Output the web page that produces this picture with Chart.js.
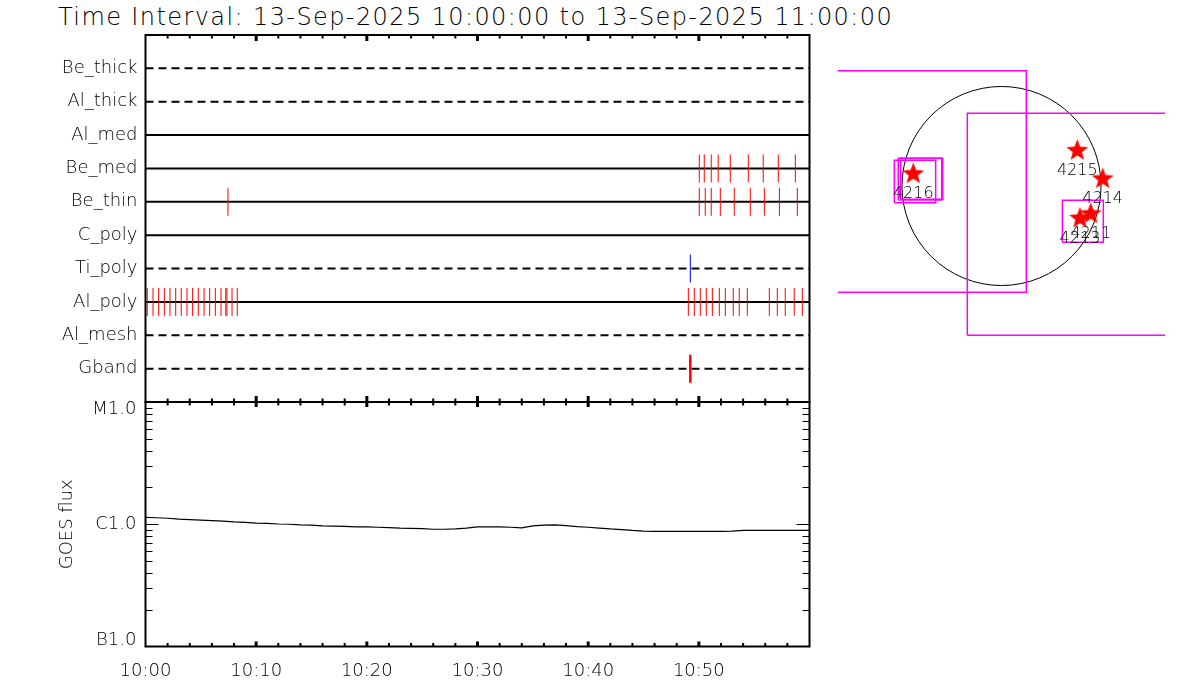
<!DOCTYPE html>
<html><head><meta charset="utf-8">
<script src="https://cdn.jsdelivr.net/npm/chart.js@4.4.1/dist/chart.umd.min.js"></script>
<style>
html,body{margin:0;padding:0;background:#fff;width:1200px;height:700px;overflow:hidden;}
canvas{position:absolute;left:0;top:0;}
#title{position:absolute;left:58px;top:3px;font-family:"DejaVu Sans";font-weight:200;font-size:24px;line-height:28px;letter-spacing:1.4px;color:#000;white-space:nowrap;}
</style></head><body>
<div id="title"></div>
<canvas id="c1" width="1200" height="700"></canvas>
<canvas id="c2" width="1200" height="700"></canvas>
<canvas id="c3" width="1200" height="700"></canvas>
<script>
// ---------------- DATA ----------------
const titleText = 'Time Interval: 13-Sep-2025 10:00:00 to 13-Sep-2025 11:00:00';
const channelNames = ['Be_thick','Al_thick','Al_med','Be_med','Be_thin','C_poly','Ti_poly','Al_poly','Al_mesh','Gband'];
const channelDashed = [true, true, false, false, false, false, true, false, true, true];
// event times, minutes after 10:00
const beMedTimes = [50.04, 50.49, 51.12, 51.75, 52.84, 54.47, 55.82, 57.18, 58.72];
const beThinTimes = [7.45, 50.04, 50.58, 51.12, 51.94, 53.20, 54.65, 55.92, 57.28, 58.90];
const tiPolyTimes = [49.23];
const alPolyTimes = [0.16, 0.68, 1.19, 1.70, 2.21, 2.73, 3.23, 3.75, 4.26, 4.77, 5.29, 5.80, 6.31, 6.82, 7.25, 7.36, 7.82, 8.29,
                     49.05, 49.59, 50.13, 50.67, 51.22, 51.85, 52.39, 53.11, 53.65, 54.38, 56.37, 57.09, 57.81, 58.62, 59.35];
const gbandTimes = [49.23];

const timeTickValues = [0, 10, 20, 30, 40, 50];
const timeTickLabels = ['10:00', '10:10', '10:20', '10:30', '10:40', '10:50'];
const fluxTickValues = [1e-7, 1e-6, 1e-5];
const fluxTickLabels = ['B1.0', 'C1.0', 'M1.0'];

const goesMinutes = [0,1,2,3,4,5,6,7,8,9,10,11,12,13,14,15,16,17,18,19,20,21,22,23,24,25,26,27,28,29,30,
                     31,32,33,34,35,36,37,38,39,40,41,42,43,44,45,46,47,48,49,50,51,52,53,54,55,56,57,58,59,60];
const goesFlux = [1.14e-6,1.13e-6,1.12e-6,1.10e-6,1.09e-6,1.08e-6,1.07e-6,1.06e-6,1.045e-6,1.035e-6,1.02e-6,
                  1.015e-6,1.005e-6,1.00e-6,0.99e-6,0.985e-6,0.97e-6,0.965e-6,0.96e-6,0.95e-6,0.95e-6,
                  0.945e-6,0.94e-6,0.93e-6,0.925e-6,0.92e-6,0.91e-6,0.91e-6,0.915e-6,0.93e-6,0.95e-6,
                  0.95e-6,0.95e-6,0.945e-6,0.935e-6,0.97e-6,0.985e-6,0.99e-6,0.975e-6,0.955e-6,0.945e-6,
                  0.93e-6,0.915e-6,0.905e-6,0.89e-6,0.88e-6,0.875e-6,0.875e-6,0.875e-6,0.875e-6,0.875e-6,
                  0.875e-6,0.875e-6,0.88e-6,0.89e-6,0.89e-6,0.89e-6,0.89e-6,0.89e-6,0.89e-6,0.89e-6];

// solar map (arcsec)
const solarRadius = 960;
const arNumbers = ['4215', '4214', '4216', '4213', '4211'];
const arX = [731, 976, -851, 757, 861];
const arY = [341, 68, 116, -312, -270];
const boxX0 = [-1898, -330, -1034, -996, -972, 587];
const boxX1 = [239, 1812, -635, -577, -567, 982];
const boxY0 = [-1026, -1440, -161, -135, -128, -543];
const boxY1 = [1112, 701, 248, 267, 267, -138];

// ---------------- STYLE / HELPERS ----------------
document.getElementById('title').textContent = titleText;
const FONT = 'DejaVu Sans';
const WEIGHT = '200';
const RED = '#ff0000', BLUE = '#0000ff';

const frameTicks = {
  id: 'frameTicks',
  afterDraw(chart, args, o) {
    if (!o || !o.enabled) return;
    const {ctx, chartArea: a} = chart;
    ctx.save();
    ctx.strokeStyle = '#000';
    if (o.x) {
      const xs = chart.scales.x;
      for (let v = xs.min + o.x.step; v < xs.max - 1e-6; v += o.x.step) {
        const major = Math.abs(v % o.x.majorStep) < 1e-6 || Math.abs(v % o.x.majorStep - o.x.majorStep) < 1e-6;
        const px = xs.getPixelForValue(v);
        const len = major ? o.x.majorLen : o.x.minorLen;
        ctx.lineWidth = major ? 3 : 2;
        ctx.beginPath();
        if (o.x.top) { ctx.moveTo(px, a.top); ctx.lineTo(px, a.top + len); }
        if (o.x.bottom) { ctx.moveTo(px, a.bottom); ctx.lineTo(px, a.bottom - len); }
        ctx.stroke();
      }
    }
    if (o.logY) {
      const ys = chart.scales.y;
      const n0 = Math.round(Math.log10(ys.min)), n1 = Math.round(Math.log10(ys.max));
      ctx.lineWidth = 1;
      for (let n = n0; n < n1; n++) {
        for (let k = 1; k <= 9; k++) {
          if (n === n0 && k === 1) continue;
          const py = Math.round(ys.getPixelForValue(k * Math.pow(10, n))) + 0.5;
          const len = k === 1 ? o.logY.majorLen : o.logY.minorLen;
          ctx.beginPath();
          ctx.moveTo(a.left, py); ctx.lineTo(a.left + len, py);
          ctx.moveTo(a.right, py); ctx.lineTo(a.right - len, py);
          ctx.stroke();
        }
      }
    }
    ctx.lineWidth = 2;
    ctx.strokeRect(a.left, a.top, a.right - a.left, a.bottom - a.top);
    ctx.restore();
  }
};

const sunDisk = {
  id: 'sunDisk',
  beforeDatasetsDraw(chart, args, o) {
    if (!o || !o.enabled) return;
    const {ctx} = chart, xs = chart.scales.x, ys = chart.scales.y;
    const cx = xs.getPixelForValue(0), cy = ys.getPixelForValue(0);
    const r = xs.getPixelForValue(o.radius) - cx;
    ctx.save();
    ctx.strokeStyle = '#000'; ctx.lineWidth = 1;
    ctx.beginPath(); ctx.arc(cx, cy, r, 0, Math.PI * 2); ctx.stroke();
    ctx.restore();
  }
};

const arLabels = {
  id: 'arLabels',
  afterDatasetsDraw(chart, args, o) {
    if (!o || !o.enabled) return;
    const {ctx} = chart, xs = chart.scales.x, ys = chart.scales.y;
    ctx.save();
    ctx.fillStyle = '#000';
    ctx.font = WEIGHT + ' 16px "' + FONT + '"';
    ctx.textAlign = 'center'; ctx.textBaseline = 'middle';
    arNumbers.forEach((t, i) => {
      ctx.fillText(t, xs.getPixelForValue(arX[i]), ys.getPixelForValue(arY[i]) + o.offset);
    });
    ctx.restore();
  }
};

function makeStar(r) {
  const c = document.createElement('canvas');
  const s = Math.ceil(r * 2 + 2);
  c.width = s; c.height = s;
  const g = c.getContext('2d');
  g.fillStyle = RED;
  g.beginPath();
  for (let i = 0; i < 10; i++) {
    const ang = -Math.PI / 2 + i * Math.PI / 5;
    const rr = i % 2 === 0 ? r : r * 0.42;
    g.lineTo(s / 2 + rr * Math.cos(ang), s / 2 + rr * Math.sin(ang));
  }
  g.closePath(); g.fill();
  return c;
}

const common = {
  responsive: false, animation: false, events: [],
  plugins: { legend: {display: false}, tooltip: {enabled: false} }
};

// ---------------- CHART 1 : channel panel ----------------
const yLabels = [''].concat(channelNames, [' ']);
const rowDatasets = channelNames.map((name, i) => ({
  type: 'scatter', showLine: true,
  data: [{x: 0, y: name}, {x: 60, y: name}],
  borderColor: '#000', borderWidth: 2,
  borderDash: channelDashed[i] ? [8, 5] : [],
  pointRadius: 0, order: 2
}));
function tickSet(times, name, color, width) {
  return {
    type: 'scatter', showLine: false,
    data: times.map(t => ({x: t, y: name})),
    pointStyle: 'line', rotation: 90, pointRadius: 14,
    borderColor: color, backgroundColor: color, borderWidth: width, order: 0
  };
}
new Chart(document.getElementById('c1'), {
  type: 'scatter',
  data: { datasets: rowDatasets.concat([
    tickSet(beMedTimes, 'Be_med', RED, 1),
    tickSet(beThinTimes, 'Be_thin', RED, 1),
    tickSet(tiPolyTimes, 'Ti_poly', BLUE, 1),
    tickSet(alPolyTimes, 'Al_poly', RED, 1),
    tickSet(gbandTimes, 'Gband', RED, 2.5)
  ]) },
  options: Object.assign({}, common, {
    layout: { padding: {left: 0, top: 35, right: 390.5, bottom: 298} },
    plugins: Object.assign({}, common.plugins, {
      frameTicks: { enabled: true, x: {step: 2, majorStep: 10, minorLen: 3.5, majorLen: 6, top: true, bottom: true} }
    }),
    scales: {
      x: { type: 'linear', min: 0, max: 60, display: false },
      y: { type: 'category', labels: yLabels, offset: false,
           grid: {display: false, drawTicks: false}, border: {display: false},
           ticks: { autoSkip: false, padding: 8, color: '#000', font: {family: FONT, size: 18, weight: WEIGHT} },
           afterFit(s) { s.width = 145.5; } }
    }
  }),
  plugins: [frameTicks]
});

// ---------------- CHART 2 : GOES flux ----------------
function fluxIndex(v) { return fluxTickValues.findIndex(t => Math.abs(t - v) / t < 1e-6); }
new Chart(document.getElementById('c2'), {
  type: 'scatter',
  data: { datasets: [{
    showLine: true,
    data: goesMinutes.map((m, i) => ({x: m, y: goesFlux[i]})),
    borderColor: '#000', borderWidth: 1.2, pointRadius: 0, tension: 0
  }] },
  options: Object.assign({}, common, {
    layout: { padding: {left: 0, top: 402, right: 390.5, bottom: 0} },
    plugins: Object.assign({}, common.plugins, {
      frameTicks: { enabled: true,
        x: {step: 2, majorStep: 10, minorLen: 3.5, majorLen: 5, top: true, bottom: true},
        logY: {minorLen: 7, majorLen: 13} }
    }),
    scales: {
      x: { type: 'linear', min: 0, max: 60, position: 'bottom',
           afterBuildTicks(s) { s.ticks = timeTickValues.map(v => ({value: v})); },
           ticks: { autoSkip: false, maxRotation: 0, padding: 14, color: '#000', font: {family: FONT, size: 18, weight: WEIGHT},
                    callback: v => timeTickLabels[timeTickValues.indexOf(v)] },
           grid: {display: false, drawTicks: false}, border: {display: false},
           afterFit(s) { s.height = 53.5; } },
      y: { type: 'logarithmic', min: 1e-7, max: 1e-5,
           afterBuildTicks(s) { s.ticks = fluxTickValues.map(v => ({value: v})); },
           ticks: { autoSkip: false, padding: 9, color: '#000',
                    // end labels sit inside the frame: shift them by a half line
                    font: c => {
                      const i = c.tick ? fluxIndex(c.tick.value) : -1;
                      const lh = i === fluxTickValues.length - 1 ? 15 : (i === 0 ? 12 : 21.6);
                      return {family: FONT, size: 18, weight: WEIGHT, lineHeight: lh + 'px'};
                    },
                    callback: v => {
                      const i = fluxIndex(v);
                      if (i < 0) return '';
                      if (i === fluxTickValues.length - 1) return ['', fluxTickLabels[i]];
                      if (i === 0) return [fluxTickLabels[i], ''];
                      return fluxTickLabels[i];
                    } },
           title: { display: true, text: 'GOES flux', color: '#000', font: {family: FONT, size: 18, weight: WEIGHT}, padding: {top: 57, bottom: 0} },
           grid: {display: false, drawTicks: false}, border: {display: false},
           afterFit(s) { s.width = 145.5; } }
    }
  }),
  plugins: [frameTicks]
});

// ---------------- CHART 3 : solar map ----------------
const boxDatasets = boxX0.map((x0, i) => ({
  type: 'scatter', showLine: true,
  data: [{x: x0, y: boxY0[i]}, {x: boxX1[i], y: boxY0[i]}, {x: boxX1[i], y: boxY1[i]},
         {x: x0, y: boxY1[i]}, {x: x0, y: boxY0[i]}],
  borderColor: '#ff00ff', borderWidth: 1.5, pointRadius: 0, tension: 0, order: 1
}));
new Chart(document.getElementById('c3'), {
  type: 'scatter',
  data: { datasets: boxDatasets.concat([{
    type: 'scatter', showLine: false,
    data: arX.map((x, i) => ({x: x, y: arY[i]})),
    pointStyle: makeStar(11.5), pointRadius: 12, order: 0
  }]) },
  options: Object.assign({}, common, {
    layout: { padding: {left: 838, right: 35, top: 22.5, bottom: 350.5} },
    plugins: Object.assign({}, common.plugins, {
      sunDisk: { enabled: true, radius: solarRadius },
      arLabels: { enabled: true, offset: 20 }
    }),
    scales: {
      x: { type: 'linear', min: -1577, max: 1577, display: false },
      y: { type: 'linear', min: -1577, max: 1577, display: false }
    }
  }),
  plugins: [sunDisk, arLabels]
});
</script>
</body></html>
